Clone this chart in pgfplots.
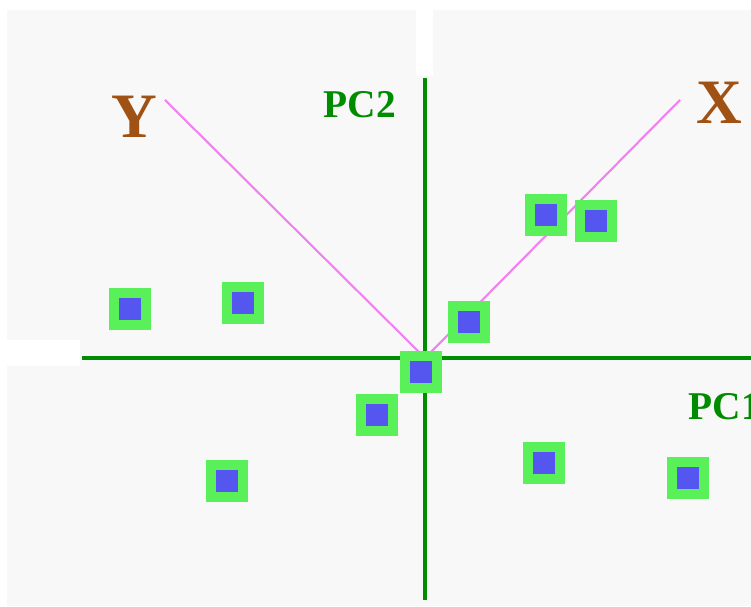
\documentclass[border=0pt]{standalone}
\usepackage{fontspec}
\setmainfont{Liberation Serif}
\usepackage{pgfplots}
\pgfplotsset{compat=1.18}
\definecolor{bg}{RGB}{248,248,248}
\definecolor{axgreen}{RGB}{0,140,0}
\definecolor{ptgreen}{RGB}{90,240,90}
\definecolor{ptblue}{RGB}{85,85,240}
\definecolor{pink}{RGB}{240,130,240}
\definecolor{brown}{RGB}{160,82,20}
\pgfplotstableread{
x y
130 297
243 303
469 284
546 391
596 385
421 234
377 191
227 125
544 143
688 128
}\points
\begin{document}
\begin{tikzpicture}
\begin{axis}[
  scale only axis, width=7.51cm, height=6.06cm,
  xmin=0, xmax=751, ymin=0, ymax=606,
  axis line style={draw=none}, ticks=none,
  axis background/.style={fill=bg},
  clip=true,
]
\addplot[draw=none, fill=white] coordinates {(0,596) (751,596) (751,606) (0,606)} -- cycle;
\addplot[draw=none, fill=white] coordinates {(0,0) (7,0) (7,606) (0,606)} -- cycle;
\addplot[draw=none, fill=white] coordinates {(416,530) (433,530) (433,606) (416,606)} -- cycle;
\addplot[draw=none, fill=white] coordinates {(7,240) (80,240) (80,266) (7,266)} -- cycle;
\addplot[axgreen, line width=1.15pt] coordinates {(82,248) (751,248)};
\addplot[axgreen, line width=1.15pt] coordinates {(425,528) (425,6)};
\addplot[pink, line width=0.6pt] coordinates {(425,248) (165,506)};
\addplot[pink, line width=0.6pt] coordinates {(425,248) (680,506)};
\addplot[ptgreen, only marks, mark=square*, mark size=5.8pt, mark options={fill=ptgreen, draw=ptgreen, line width=0pt}] table {\points};
\addplot[ptblue, only marks, mark=square*, mark size=3.1pt, mark options={fill=ptblue, draw=ptblue, line width=0pt}] table {\points};
\node[text=brown, font=\fontsize{18}{18}\selectfont\bfseries] at (axis cs:134,489) {Y};
\node[text=brown, font=\fontsize{18}{18}\selectfont\bfseries] at (axis cs:719,503) {X};
\node[text=axgreen, font=\fontsize{11.2}{12}\selectfont\bfseries] at (axis cs:360,501) {PC2};
\node[text=axgreen, font=\fontsize{11.2}{12}\selectfont\bfseries, anchor=west, inner sep=0pt] at (axis cs:688,199) {PC1};
\end{axis}
\end{tikzpicture}
\end{document}
